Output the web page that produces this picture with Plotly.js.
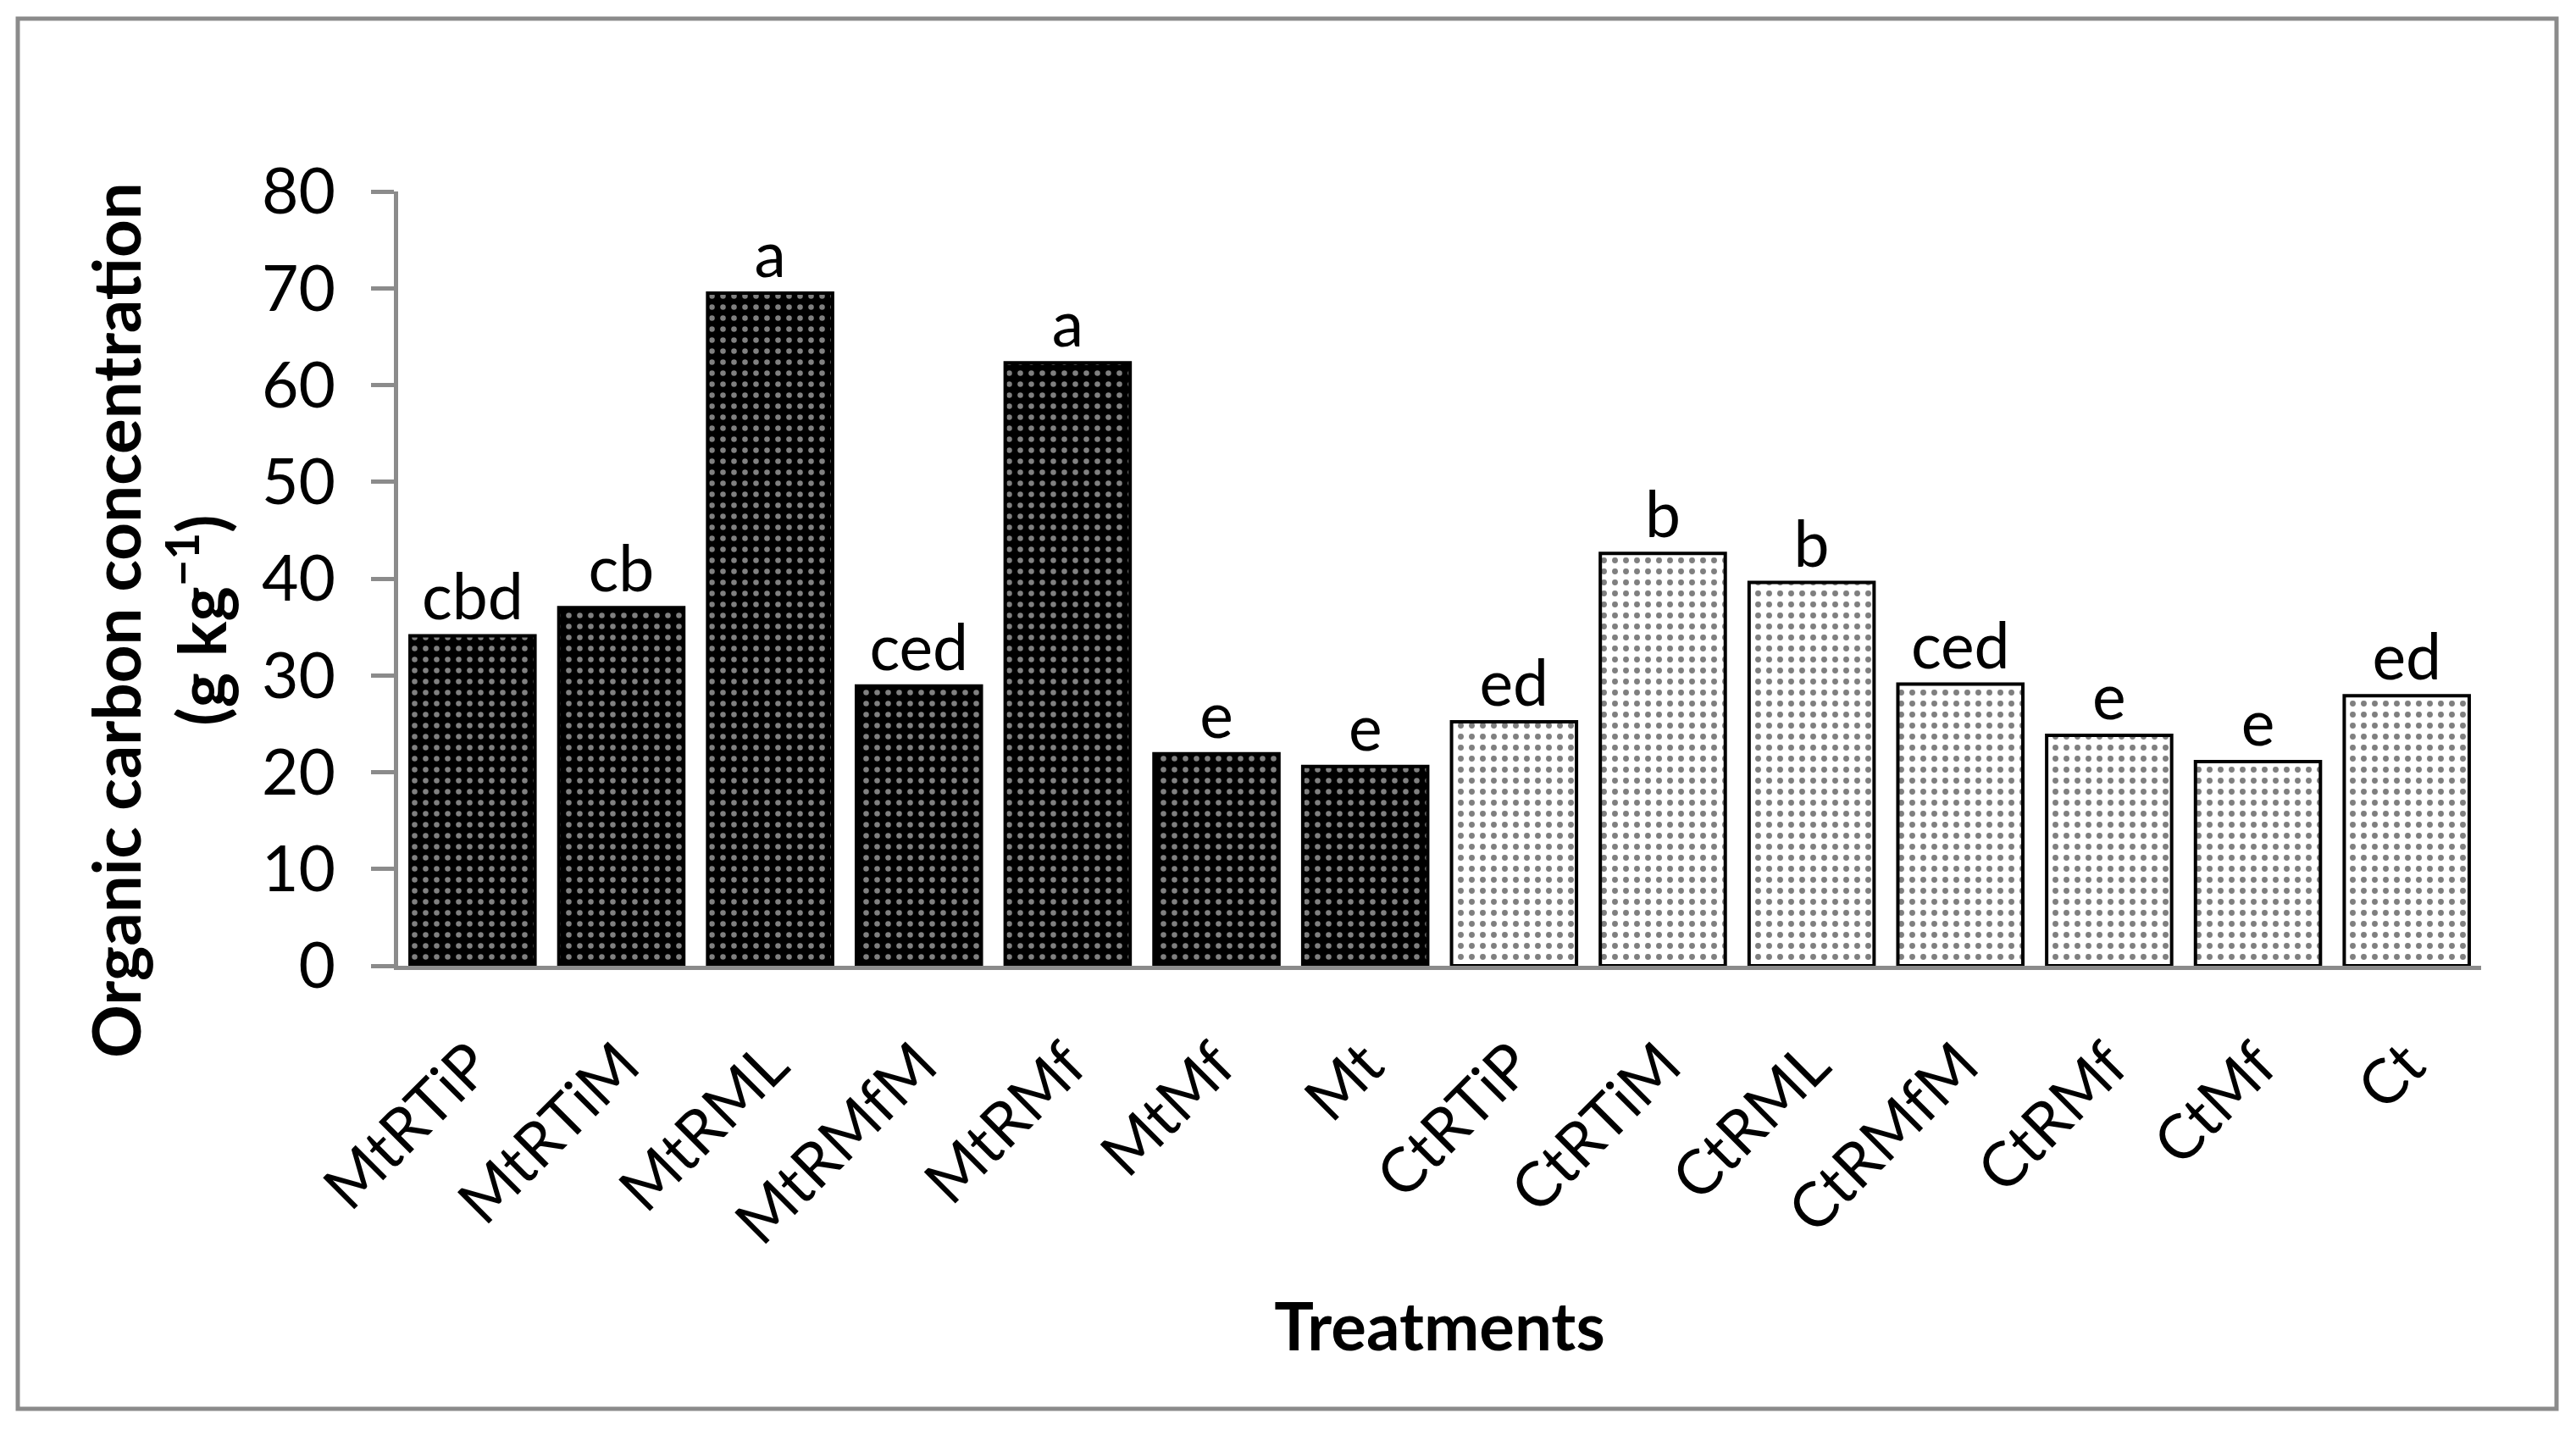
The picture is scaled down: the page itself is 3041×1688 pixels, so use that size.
<!DOCTYPE html>
<html>
<head>
<meta charset="utf-8">
<script src="https://cdn.plot.ly/plotly-3.0.1.min.js"></script>
<style>
  html, body { margin: 0; padding: 0; background: #ffffff; }
  #chart { width: 3041px; height: 1688px; }
</style>
</head>
<body>
<div id="chart"></div>
<script>
// ---- data ----
const categories = ['MtRTiP', 'MtRTiM', 'MtRML', 'MtRMfM', 'MtRMf', 'MtMf', 'Mt',
                    'CtRTiP', 'CtRTiM', 'CtRML', 'CtRMfM', 'CtRMf', 'CtMf', 'Ct'];
const values = [34.1, 37.0, 69.5, 28.9, 62.3, 21.9, 20.6,
                25.2, 42.6, 39.6, 29.1, 23.8, 21.1, 27.9];
const letters = ['cbd', 'cb', 'a', 'ced', 'a', 'e', 'e',
                 'ed', 'b', 'b', 'ced', 'e', 'e', 'ed'];
const groups = ['Mt', 'Mt', 'Mt', 'Mt', 'Mt', 'Mt', 'Mt',
                'Ct', 'Ct', 'Ct', 'Ct', 'Ct', 'Ct', 'Ct'];
const yTicks = [0, 10, 20, 30, 40, 50, 60, 70, 80];
const xTitle = 'Treatments';
const yTitle = 'Organic carbon concentration<br>(g kg<sup>−1</sup>)';

// ---- layout constants ----
const W = 3041, H = 1688;
const M = { l: 470, r: 112, t: 226, b: 548 };
const GRAY = '#8b8b8b';
const FONT = 'Lato, Carlito, Calibri, sans-serif';
const plotW = W - M.l - M.r, plotH = H - M.t - M.b;
const px2x = p => (p - M.l) / plotW;
const px2y = p => (H - M.b - p) / plotH;

function groupTrace(g, bgc, fgc, sol) {
  const idx = groups.map((v, i) => v === g ? i : -1).filter(i => i >= 0);
  return {
    type: 'bar',
    x: idx.map(i => categories[i]),
    y: idx.map(i => values[i]),
    text: idx.map(i => letters[i]),
    textposition: 'outside',
    constraintext: 'none',
    cliponaxis: false,
    textfont: { family: FONT, size: 75, color: '#000000' },
    hoverinfo: 'x+y',
    marker: {
      color: bgc,
      pattern: { shape: '.', bgcolor: bgc, fgcolor: fgc, size: 13, solidity: sol, fillmode: 'overlay' },
      line: { color: '#000000', width: 4 }
    },
    showlegend: false
  };
}

const traces = [
  groupTrace('Mt', '#000000', '#ffffff', 0.2),
  groupTrace('Ct', '#ffffff', '#000000', 0.22)
];

const layout = {
  width: W, height: H,
  margin: M,
  paper_bgcolor: '#ffffff',
  plot_bgcolor: '#ffffff',
  barmode: 'relative',
  bargap: 0.16,
  font: { family: FONT, color: '#000000' },
  xaxis: {
    type: 'category',
    categoryorder: 'array', categoryarray: categories,
    showline: true, linecolor: GRAY, linewidth: 5,
    ticks: '', showgrid: false, zeroline: false,
    tickangle: -45,
    ticklabelstandoff: 40,
    tickfont: { family: FONT, size: 73, color: '#000000' },
    title: { text: '<b>' + xTitle + '</b>', font: { family: FONT, size: 78, color: '#000000' }, standoff: 58 }
  },
  yaxis: {
    range: [0, 80],
    tickvals: yTicks,
    showline: true, linecolor: GRAY, linewidth: 5,
    ticks: 'outside', ticklen: 27, tickwidth: 5, tickcolor: GRAY,
    ticklabelstandoff: 27,
    showgrid: false, zeroline: false,
    tickfont: { family: FONT, size: 75, color: '#000000' }
  },
  annotations: [{
    text: '<b>' + yTitle + '</b>',
    xref: 'paper', yref: 'paper',
    x: px2x(186), y: px2y(732),
    xanchor: 'center', yanchor: 'middle',
    textangle: -90, showarrow: false,
    font: { family: FONT, size: 78, color: '#000000' }
  }],
  shapes: [{
    type: 'rect', xref: 'paper', yref: 'paper',
    x0: px2x(21), x1: px2x(3018), y0: px2y(1663), y1: px2y(22),
    line: { color: GRAY, width: 5 }, fillcolor: 'rgba(0,0,0,0)', layer: 'below'
  }]
};

Plotly.newPlot('chart', traces, layout, { staticPlot: true, displayModeBar: false });
</script>
</body>
</html>
